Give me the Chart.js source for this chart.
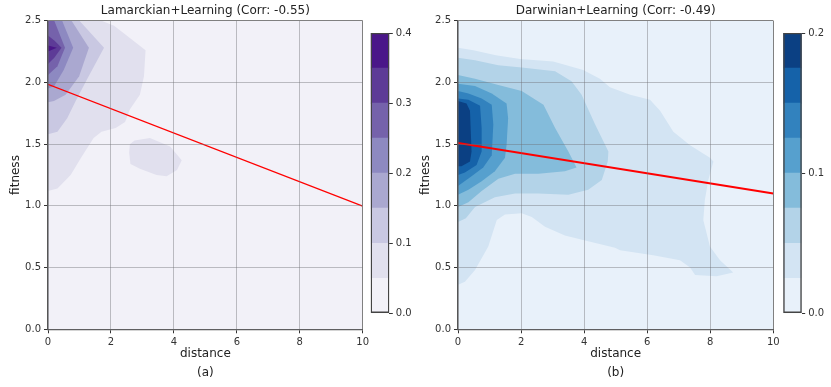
<!DOCTYPE html>
<html>
<head>
<meta charset="utf-8">
<script src="https://cdn.jsdelivr.net/npm/chart.js@4/dist/chart.umd.min.js"></script>
<style>
body { margin: 0; background: #fff; width: 831px; height: 387px; position: relative; overflow: hidden; }
canvas { position: absolute; top: 0; }
</style>
</head>
<body>
<canvas id="lam" width="370" height="387" style="left:0"></canvas>
<canvas id="lamBar" width="54" height="387" style="left:366px"></canvas>
<canvas id="dar" width="370" height="387" style="left:410px"></canvas>
<canvas id="darBar" width="52" height="387" style="left:779px"></canvas>
<script>
// density levels of the colour bars
var lamLevels = [0, 0.05, 0.1, 0.15, 0.2, 0.25, 0.3, 0.35, 0.4]
var darLevels = [0, 0.025, 0.05, 0.075, 0.1, 0.125, 0.15, 0.175, 0.2]
var lamColors = ['#f2f1f8', '#e1e0ee', '#c9c8e2', '#aaa8d0', '#8d89c1', '#7562ab', '#5d3b97', '#4a1689']
var darColors = ['#e8f1fa', '#d3e4f3', '#b3d3e8', '#84bcdb', '#56a0ce', '#3282be', '#1562a9', '#0b4083']

// regression lines: fitness at distance 0 and 10
var fitX = [0, 10]
var lamFit = [1.985, 0.998]
var darFit = [1.51, 1.10]

// contour outlines [distance, fitness], one per level (level 0 = whole area)
var full = [[0, 0], [10, 0], [10, 2.5], [0, 2.5]]
var lamL1 = [[0, 2.5], [1.7, 2.5], [2.1, 2.46], [2.5, 2.38], [3.1, 2.26], [3.05, 2.05], [2.92, 1.9], [2.6, 1.78], [2.45, 1.68], [2.15, 1.63], [1.7, 1.6], [1.45, 1.55], [1.05, 1.39], [0.72, 1.25], [0.3, 1.14], [0, 1.12]]
var lamBlob = [[2.6, 1.5], [2.75, 1.53], [3.24, 1.55], [3.88, 1.48], [4.25, 1.37], [4.1, 1.29], [3.77, 1.24], [3.45, 1.25], [2.92, 1.3], [2.62, 1.34], [2.58, 1.43]]
var lamL2 = [[0, 2.5], [1.0, 2.5], [1.78, 2.28], [1.25, 2.03], [0.88, 1.85], [0.61, 1.71], [0.3, 1.6], [0, 1.58]]
var lamL3 = [[0, 2.5], [0.75, 2.5], [1.3, 2.28], [0.99, 2.05], [0.56, 1.9], [0.19, 1.85], [0, 1.84]]
var lamL4 = [[0, 2.5], [0.45, 2.5], [0.8, 2.28], [0.5, 2.1], [0.2, 1.97], [0, 1.95]]
var lamL5 = [[0, 2.5], [0.2, 2.5], [0.54, 2.28], [0.3, 2.13], [0, 2.06]]
var lamL6 = [[0, 2.38], [0.2, 2.34], [0.43, 2.28], [0.2, 2.2], [0, 2.15]]
var lamL7 = [[0, 2.3], [0.28, 2.28], [0, 2.25]]

var darL1 = [[0, 2.28], [0.49, 2.26], [1.2, 2.22], [1.97, 2.19], [3.02, 2.17], [3.97, 2.1], [4.5, 2.03], [4.82, 1.96], [5.46, 1.9], [6.09, 1.86], [6.41, 1.77], [6.83, 1.6], [7.36, 1.49], [7.99, 1.39], [8.1, 1.36], [7.94, 1.21], [7.83, 1.05], [7.78, 0.885], [7.99, 0.67], [8.31, 0.56], [8.73, 0.46], [8.2, 0.43], [7.52, 0.44], [7.36, 0.5], [7.04, 0.56], [6.19, 0.6], [5.14, 0.64], [4.98, 0.66], [4.03, 0.72], [3.39, 0.76], [2.76, 0.83], [2.34, 0.91], [2.02, 0.94], [1.49, 0.93], [1.23, 0.885], [0.96, 0.67], [0.54, 0.48], [0.22, 0.385], [0, 0.36]]
var darL2 = [[0, 2.2], [0.54, 2.18], [1.28, 2.14], [2.02, 2.12], [3.08, 2.09], [3.6, 2.01], [3.92, 1.9], [4.35, 1.66], [4.77, 1.44], [4.75, 1.36], [4.56, 1.21], [4.13, 1.13], [3.5, 1.09], [2.55, 1.1], [1.81, 1.1], [1.17, 1.07], [0.54, 0.99], [0.25, 0.9], [0, 0.87]]
var darL3 = [[0, 2.06], [0.54, 2.03], [1.28, 1.98], [2.02, 1.93], [2.71, 1.82], [3.08, 1.63], [3.5, 1.44], [3.76, 1.31], [3.39, 1.28], [2.55, 1.26], [1.81, 1.26], [1.28, 1.22], [0.75, 1.12], [0.33, 1.03], [0, 0.99]]
var darL4 = [[0, 1.99], [0.54, 1.97], [1.07, 1.91], [1.54, 1.83], [1.59, 1.71], [1.54, 1.49], [1.49, 1.39], [1.17, 1.28], [0.75, 1.2], [0.33, 1.13], [0, 1.09]]
var darL5 = [[0, 1.93], [0.33, 1.91], [0.75, 1.87], [1.07, 1.82], [1.12, 1.66], [1.07, 1.41], [0.8, 1.31], [0.43, 1.24], [0, 1.16]]
var darL6 = [[0, 1.87], [0.33, 1.86], [0.7, 1.81], [0.75, 1.63], [0.75, 1.44], [0.59, 1.33], [0.22, 1.27], [0, 1.25]]
var darL7 = [[0, 1.85], [0.27, 1.83], [0.38, 1.77], [0.43, 1.44], [0.38, 1.36], [0.11, 1.32], [0, 1.32]]

Chart.defaults.font.family = '"DejaVu Sans", sans-serif'
Chart.defaults.color = '#262626'

var gridColor = 'rgba(110,110,115,0.42)'
var edgeColor = '#808080'

function toPts (arr) {
	return arr.map(p => ({ x: p[0], y: p[1] }))
}

function contourChart (id, title, sub, polys, colors, fit, lineWidth, padRight) {
	var datasets = polys.map((p, i) => ({
		data: toPts(p.shape),
		backgroundColor: colors[p.level],
		borderWidth: 0,
		pointRadius: 0,
		fill: 'shape',
		order: 20 - i
	}))
	datasets.push({
		data: fitX.map((x, i) => ({ x: x, y: fit[i] })),
		borderColor: '#ff0000',
		borderWidth: lineWidth,
		pointRadius: 0,
		fill: false,
		order: 0
	})
	return new Chart(document.getElementById(id), {
		type: 'line',
		data: { datasets: datasets },
		options: {
			responsive: false,
			animation: false,
			devicePixelRatio: 1,
			layout: { padding: { right: padRight } },
			plugins: {
				legend: { display: false },
				tooltip: { enabled: false },
				title: {
					display: true,
					fullSize: false,
					text: title,
					color: '#222',
					font: { size: 12, weight: 'normal' },
					padding: { top: 4, bottom: 2.3 }
				}
			},
			scales: {
				x: {
					type: 'linear',
					min: 0,
					max: 10,
					ticks: { stepSize: 2, color: '#333', font: { size: 10 }, padding: 3, maxRotation: 0 },
					grid: {
						z: 1,
						color: c => c.tick && c.tick.value === 10 ? edgeColor : gridColor,
						tickColor: '#333',
						tickLength: 4
					},
					border: { z: 1, color: '#555', width: 1.3 },
					title: {
						display: true,
						text: ['distance', sub],
						color: '#222',
						font: { size: 12, lineHeight: 1.58 },
						padding: { top: 0, bottom: 4.5 }
					},
					afterFit: s => {
						s.height = 57.7
						s.paddingLeft = 0
						s.paddingRight = 0
					}
				},
				y: {
					min: 0,
					max: 2.5,
					ticks: { stepSize: 0.5, color: '#333', font: { size: 10 }, padding: 3, callback: v => v.toFixed(1) },
					grid: {
						z: 1,
						color: c => c.tick && c.tick.value === 2.5 ? edgeColor : gridColor,
						tickColor: '#333',
						tickLength: 4
					},
					border: { z: 1, color: '#555', width: 1.3 },
					title: {
						display: true,
						text: 'fitness',
						color: '#222',
						font: { size: 12 },
						padding: { top: 9, bottom: 0 }
					},
					afterFit: s => {
						s.width = 48
						s.paddingTop = 0
						s.paddingBottom = 0
					}
				}
			}
		}
	})
}

function colorBar (id, levels, colors, padLeft, axisWidth) {
	var datasets = colors.map((c, i) => ({
		data: [[levels[i], levels[i + 1]]],
		backgroundColor: c,
		borderWidth: 0,
		barPercentage: 1,
		categoryPercentage: 1,
		grouped: false
	}))
	datasets.push({
		data: [[levels[0], levels[levels.length - 1]]],
		backgroundColor: 'rgba(0,0,0,0)',
		borderColor: '#444',
		borderWidth: 1,
		borderSkipped: false,
		barPercentage: 1,
		categoryPercentage: 1,
		grouped: false,
		order: -1
	})
	return new Chart(document.getElementById(id), {
		type: 'bar',
		data: { labels: [''], datasets: datasets },
		options: {
			responsive: false,
			animation: false,
			devicePixelRatio: 1,
			layout: { padding: { left: padLeft, top: 33, bottom: 73.7, right: 0 } },
			plugins: { legend: { display: false }, tooltip: { enabled: false } },
			scales: {
				x: { display: false },
				y: {
					position: 'right',
					min: levels[0],
					max: levels[levels.length - 1],
					ticks: { stepSize: 0.1, color: '#333', font: { size: 10 }, padding: 3, callback: v => v.toFixed(1) },
					grid: { drawOnChartArea: false, tickColor: '#333', tickLength: 3.5 },
					border: { display: false },
					afterFit: s => {
						s.width = axisWidth
						s.paddingTop = 0
						s.paddingBottom = 0
					}
				}
			}
		}
	})
}

contourChart('lam', 'Lamarckian+Learning (Corr: -0.55)', '(a)', [
	{ level: 0, shape: full },
	{ level: 1, shape: lamL1 },
	{ level: 1, shape: lamBlob },
	{ level: 2, shape: lamL2 },
	{ level: 3, shape: lamL3 },
	{ level: 4, shape: lamL4 },
	{ level: 5, shape: lamL5 },
	{ level: 6, shape: lamL6 },
	{ level: 7, shape: lamL7 }
], lamColors, lamFit, 1.2, 7.3)

contourChart('dar', 'Darwinian+Learning (Corr: -0.49)', '(b)', [
	{ level: 0, shape: full },
	{ level: 1, shape: darL1 },
	{ level: 2, shape: darL2 },
	{ level: 3, shape: darL3 },
	{ level: 4, shape: darL4 },
	{ level: 5, shape: darL5 },
	{ level: 6, shape: darL6 },
	{ level: 7, shape: darL7 }
], darColors, darFit, 2, 6.7)

colorBar('lamBar', lamLevels, lamColors, 4.7, 30.7)
colorBar('darBar', darLevels, darColors, 4.3, 29.3)
</script>
</body>
</html>
